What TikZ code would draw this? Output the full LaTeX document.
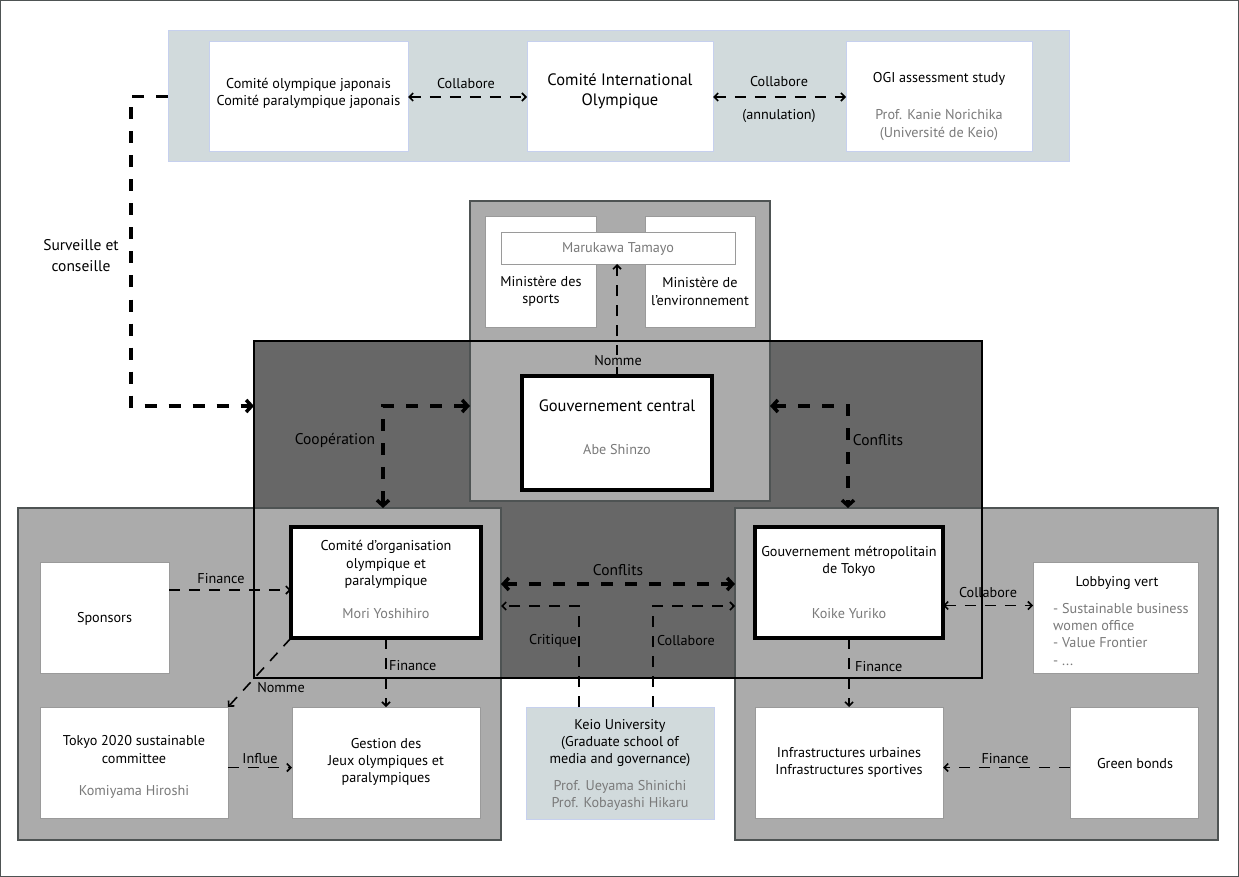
\documentclass[tikz,border=0pt]{standalone}
\usepackage{fontspec}
\setmainfont{PT Sans}
\usetikzlibrary{arrows.meta,calc}
\definecolor{bar}{HTML}{D1DADC}
\definecolor{barline}{HTML}{C6D0EE}
\definecolor{panel}{HTML}{ABABAB}
\definecolor{paneldark}{HTML}{4E5353}
\definecolor{darkfill}{HTML}{676767}
\definecolor{namegray}{HTML}{7A7A7A}
\definecolor{boxgray}{HTML}{9A9A9A}
\tikzset{
  wbox/.style={draw=boxgray, line width=0.8pt, fill=white, inner sep=0pt, outer sep=0pt},
  tbox/.style={draw=barline, line width=1pt, fill=white, inner sep=0pt, outer sep=0pt},
  kbox/.style={draw=black, line width=4.5pt, fill=white, inner sep=0pt, outer sep=0pt},
  pbox/.style={draw=paneldark, line width=2pt, fill=panel, inner sep=0pt, outer sep=0pt},
  txt/.style={font=\fontsize{14.2}{17.3}\selectfont, align=center, inner sep=0pt},
  gtxt/.style={txt, text=namegray},
  big/.style={font=\fontsize{16.5}{20}\selectfont, align=center, inner sep=0pt},
  lbl/.style={font=\fontsize{14.2}{17}\selectfont, inner sep=0pt, align=center},
  lblb/.style={font=\fontsize{15.5}{21}\selectfont, inner sep=0pt, align=center},
  thn/.style={line width=1.6pt, dash pattern=on 11pt off 9pt},
  thk/.style={line width=3.5pt, dash pattern=on 12pt off 12pt},
  tn/.tip={Straight Barb[length=4pt,width=8pt,line width=1.6pt]},
  tk/.tip={Straight Barb[length=5.5pt,width=12pt,line width=3.5pt]},
}
\begin{document}
\begin{tikzpicture}[x=1pt,y=-1pt]
\useasboundingbox (0,0) rectangle (1239,877);
\draw[paneldark,line width=1pt] (0.5,0.5) rectangle (1238.5,876.5);

% top bar
\node[draw=barline,line width=1pt,fill=bar,inner sep=0pt,outer sep=0pt,minimum width=901pt,minimum height=131pt] (topbar) at (618.5,96.5) {};
\node[tbox,minimum width=199pt,minimum height=110pt] (joc) at (308.5,97) {};
\node[tbox,minimum width=186pt,minimum height=110pt] (cio) at (620,97) {};
\node[tbox,minimum width=186pt,minimum height=110pt] (ogi) at (939,97) {};
\node[txt] (jocT) at (308.5,93.5) {Comité olympique japonais\\Comité paralympique japonais};
\node[big] (cioT) at (620,91) {Comité International\\Olympique};
\node[txt] (ogiT) at (939,79) {OGI assessment study};
\node[gtxt] (ogiN) at (939,125) {Prof. Kanie Norichika\\(Université de Keio)};

% dark box fill
\node[fill=darkfill,inner sep=0pt,outer sep=0pt,minimum width=728pt,minimum height=337pt] (dark) at (618,509.5) {};

% ministries box
\node[draw=paneldark,line width=1.5pt,fill=panel,inner sep=0pt,outer sep=0pt,minimum width=300pt,minimum height=300pt] (minis) at (620,351) {};
\node[wbox,minimum width=111pt,minimum height=111pt] (msport) at (540.5,271.5) {};
\node[wbox,minimum width=110pt,minimum height=111pt] (menv) at (700,271.5) {};
\node[wbox,minimum width=234pt,minimum height=32pt] (maru) at (618,248) {};
\node[gtxt] (maruT) at (618,249) {Marukawa Tamayo};
\node[txt] (msportT) at (541,291.5) {Ministère des\\sports};
\node[txt] (menvT) at (700,291.5) {Ministère de\\l’environnement};

% side panels
\node[pbox,minimum width=483pt,minimum height=332pt] (leftp) at (259.5,674) {};
\node[pbox,minimum width=483pt,minimum height=332pt] (rightp) at (976.5,674) {};

% dark outline on top
\draw[black,line width=2pt] (dark.north west) rectangle (dark.south east);

% central government
\node[kbox,minimum width=190pt,minimum height=114pt] (gc) at (617,433) {};
\node[big] (gcT) at (617,406) {Gouvernement central};
\node[gtxt] (gcN) at (617,450) {Abe Shinzo};

% left panel boxes
\node[kbox,minimum width=190pt,minimum height=111pt] (coj) at (386,582.5) {};
\node[txt] (cojT) at (386,564.5) {Comité d’organisation\\olympique et\\paralympique};
\node[gtxt] (cojN) at (386,614) {Mori Yoshihiro};
\node[wbox,minimum width=129pt,minimum height=111pt] (spons) at (104.5,617.5) {};
\node[txt] (sponsT) at (104.5,618.5) {Sponsors};
\node[wbox,minimum width=188pt,minimum height=111pt] (tokyo) at (134,762.5) {};
\node[txt] (tokyoT) at (134,749.5) {Tokyo 2020 sustainable\\committee};
\node[gtxt] (tokyoN) at (134,792) {Komiyama Hiroshi};
\node[wbox,minimum width=188pt,minimum height=111pt] (gest) at (386,762.5) {};
\node[txt] (gestT) at (386,762) {Gestion des\\Jeux olympiques et\\paralympiques};

% right panel boxes
\node[kbox,minimum width=188pt,minimum height=111pt] (gmt) at (849,582.5) {};
\node[txt] (gmtT) at (849,561.5) {Gouvernement métropolitain\\de Tokyo};
\node[gtxt] (gmtN) at (849,614) {Koike Yuriko};
\node[wbox,minimum width=165pt,minimum height=111pt] (lobby) at (1115.5,617.5) {};
\node[txt] (lobbyT) at (1117,583) {Lobbying vert};
\node[gtxt,align=left,anchor=north west] (lobbyL) at (1053,603) {- Sustainable business\\women office\\- Value Frontier\\- ...};
\node[wbox,minimum width=188pt,minimum height=111pt] (infra) at (849,762.5) {};
\node[txt] (infraT) at (849,762.5) {Infrastructures urbaines\\Infrastructures sportives};
\node[wbox,minimum width=128pt,minimum height=111pt] (green) at (1134,762.5) {};
\node[txt] (greenT) at (1135,764) {Green bonds};

% Keio
\node[draw=barline,line width=1pt,fill=bar,inner sep=0pt,outer sep=0pt,minimum width=188pt,minimum height=112pt] (keio) at (620,763) {};
\node[txt] (keioT) at (620,743) {Keio University\\(Graduate school of\\media and governance)};
\node[gtxt] (keioN) at (620,795.5) {Prof. Ueyama Shinichi\\Prof. Kobayashi Hikaru};

% ---- connectors ----
\coordinate (sv) at ($(dark.north west)+(0,65)$);
\draw[thk,-{tk}] (topbar.west) -- ++(-37,0) |- (sv);
\node[lblb] (svT) at (81,256) {Surveille et\\conseille};

\coordinate (cc) at (383,406);
\draw[thk,{tk}-{tk}] (minis.west |- cc) -- (cc) -- (cc |- leftp.north);
\node[lblb] (ccT) at (335,440) {Coopération};

\coordinate (cr) at (848,406);
\draw[thk,{tk}-{tk}] (minis.east |- cr) -- (cr) -- (cr |- rightp.north);
\node[lblb] (crT) at (878,440) {Conflits};

\coordinate (cm) at ($(leftp.east)+(0,-90)$);
\draw[thk,{tk}-{tk}] (cm) -- (cm -| rightp.west);
\node[lblb] (cmT) at (618,570) {Conflits};

\draw[thn,-{tn}] ($(keio.north west)+(53,0)$) |- ($(leftp.east)+(0,-68)$);
\node[lbl] (crit) at (553,641) {Critique};
\draw[thn,-{tn}] ($(keio.north east)+(-61,0)$) |- ($(rightp.west)+(0,-68)$);
\node[lbl] (colk) at (686,641) {Collabore};

\draw[thn,-{tn}] (gc.north) -- (gc.north |- maru.south);
\node[lbl,fill=panel,inner sep=1pt] (nomT) at (618,361) {Nomme};

\draw[thn,{tn}-{tn}] (joc.east) -- (cio.west);
\node[lbl] (col1) at (466,84) {Collabore};
\draw[thn,{tn}-{tn}] (cio.east) -- (ogi.west);
\node[lbl] (col2) at (779,82) {Collabore};
\node[lbl] (annul) at (779,116) {(annulation)};

\coordinate (sf) at ($(spons.north east)+(0,28)$);
\draw[thn,-{tn}] (sf) -- (sf -| coj.west);
\node[lbl] (sfT) at (221,579) {Finance};

\draw[thn,-{tn}] (coj.south west) -- (tokyo.north east);
\node[lbl] (nom2) at (281,688) {Nomme};

\draw[thn,-{tn}] (coj.south) -- (gest.north);
\node[lbl,anchor=west] (fin2) at (389,666) {Finance};

\coordinate (inf) at ($(tokyo.east)+(0,5)$);
\draw[thn,-{tn}] (inf) -- (inf -| gest.west);
\node[lbl] (infT) at (260,759) {Influe};

\coordinate (lb) at ($(gmt.east)+(0,23)$);
\draw[thn,{tn}-{tn}] (lb) -- (lb -| lobby.west);
\node[lbl] (lbT) at (988,593) {Collabore};

\draw[thn,-{tn}] (gmt.south) -- (infra.north);
\node[lbl,anchor=west] (fin3) at (855,667) {Finance};

\coordinate (gb) at ($(green.west)+(0,5)$);
\draw[thn,-{tn}] (gb) -- (gb -| infra.east);
\node[lbl] (gbT) at (1005,759) {Finance};
\end{tikzpicture}
\end{document}
